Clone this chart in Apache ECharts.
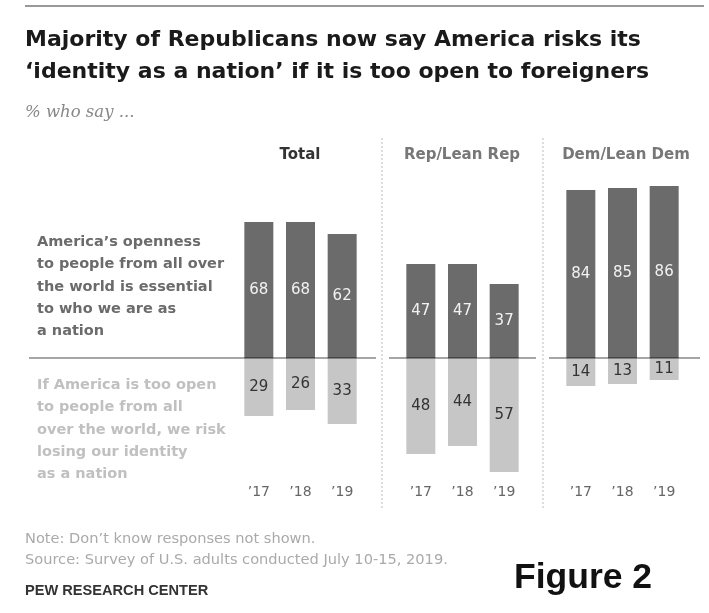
<!DOCTYPE html>
<html>
<head>
<meta charset="utf-8">
<script src="https://cdn.jsdelivr.net/npm/echarts@6/dist/echarts.min.js"></script>
<style>
  html, body { margin: 0; padding: 0; background: #fff; }
  #chart { width: 709px; height: 613px; }
</style>
</head>
<body>
<div id="chart"></div>
<script>
// 年份与分组
const years = ['\u201917', '\u201918', '\u201919']
const groups = ['Total', 'Rep/Lean Rep', 'Dem/Lean Dem']

// "openness is essential" 与 "risk losing identity" 两组数值
const essentialTotal = [68, 68, 62]
const essentialRep = [47, 47, 37]
const essentialDem = [84, 85, 86]
const riskTotal = [29, 26, 33]
const riskRep = [48, 44, 57]
const riskDem = [14, 13, 11]

const essential = [essentialTotal, essentialRep, essentialDem]
const risk = [riskTotal, riskRep, riskDem]

const DARK = '#6b6b6b'
const LIGHT = '#c6c6c6'
const BODY_FONT = 'DejaVu Sans'

// 每个面板的网格位置
const panelLeft = [238, 400, 560]
const panelWidth = 125
const gridTop = 178
const gridHeight = 300

const grids = panelLeft.map(left => ({ left, top: gridTop, width: panelWidth, height: gridHeight }))

const xAxes = groups.map((g, i) => ({
  type: 'category',
  gridIndex: i,
  data: years,
  axisLine: { show: false },
  axisTick: { show: false },
  axisLabel: { color: '#666', fontSize: 14, fontFamily: BODY_FONT, margin: 7 },
}))

const yAxes = groups.map((g, i) => ({
  type: 'value',
  gridIndex: i,
  min: -60,
  max: 90,
  show: false,
  splitLine: { show: false },
}))

const series = []
groups.forEach((g, i) => {
  series.push({
    name: g + ' essential',
    type: 'bar',
    xAxisIndex: i,
    yAxisIndex: i,
    barWidth: 29,
    barGap: '-100%',
    data: essential[i],
    itemStyle: { color: DARK },
    label: {
      show: true,
      position: 'inside',
      color: '#f2f2f2',
      fontSize: 15,
      fontFamily: BODY_FONT,
    },
  })
  series.push({
    name: g + ' risk',
    type: 'bar',
    xAxisIndex: i,
    yAxisIndex: i,
    barWidth: 29,
    barGap: '-100%',
    data: risk[i].map(v => -v),
    itemStyle: { color: LIGHT },
    label: {
      show: true,
      position: 'inside',
      color: '#333',
      fontSize: 15,
      fontFamily: BODY_FONT,
      formatter: p => Math.abs(p.value),
    },
  })
})

const chart = echarts.init(document.getElementById('chart'), null, { renderer: 'canvas' })
chart.setOption({
  backgroundColor: '#fff',
  animation: false,
  grid: grids,
  xAxis: xAxes,
  yAxis: yAxes,
  series,
})

// 零线的像素位置
const zeroY = chart.convertToPixel({ gridIndex: 0 }, [0, 0])[1]
const baseRanges = [[29, 376], [389, 536], [549, 700]]
const headerX = [300, 462, 626]

function text(x, y, str, font, fill, align) {
  return {
    type: 'text',
    z: 100,
    style: {
      x, y, text: str, font, fill,
      align: align || 'left', textAlign: align || 'left',
      verticalAlign: 'middle', textVerticalAlign: 'middle',
      lineHeight: 22.3,
    },
  }
}

const graphic = [
  // 顶部横线
  { type: 'line', shape: { x1: 25, y1: 6, x2: 704, y2: 6 }, style: { stroke: '#999', lineWidth: 2 } },
  text(25, 40, 'Majority of Republicans now say America risks its', 'bold 22px "DejaVu Sans"', '#1a1a1a'),
  text(25, 72, '\u2018identity as a nation\u2019 if it is too open to foreigners', 'bold 22px "DejaVu Sans"', '#1a1a1a'),
  text(25, 113, '% who say ...', 'italic 16.5px "DejaVu Serif"', '#888'),
  // 分隔虚线
  { type: 'line', shape: { x1: 382, y1: 138, x2: 382, y2: 508 }, style: { stroke: '#bbb', lineWidth: 1, lineDash: [2, 2] } },
  { type: 'line', shape: { x1: 543, y1: 138, x2: 543, y2: 508 }, style: { stroke: '#bbb', lineWidth: 1, lineDash: [2, 2] } },
  text(37, 242, 'America\u2019s openness\nto people from all over\nthe world is essential\nto who we are as\na nation', 'bold 14.5px "DejaVu Sans"', '#6b6b6b'),
  text(37, 385, 'If America is too open\nto people from all\nover the world, we risk\nlosing our identity\nas a nation', 'bold 14.5px "DejaVu Sans"', '#c0c0c0'),
  text(25, 539, 'Note: Don\u2019t know responses not shown.', '14.6px "DejaVu Sans"', '#aaa'),
  text(25, 560, 'Source: Survey of U.S. adults conducted July 10-15, 2019.', '14.6px "DejaVu Sans"', '#aaa'),
  text(25, 591, 'PEW RESEARCH CENTER', 'bold 14.6px "Liberation Sans"', '#333'),
  text(514, 578, 'Figure 2', 'bold 35.5px "Liberation Sans"', '#111'),
]

// 多行文本按顶部定位，首行中心落在给定 y
graphic.forEach(g => {
  if (g.type === 'text' && g.style.text.indexOf('\n') > -1) {
    g.style.verticalAlign = 'top'
    g.style.textVerticalAlign = 'top'
    g.style.y = g.style.y - 11
  }
})

groups.forEach((g, i) => {
  graphic.push(text(headerX[i], 155, g, 'bold 15px "DejaVu Sans"', i === 0 ? '#333' : '#777', 'center'))
  graphic.push({
    type: 'line',
    z: 100,
    shape: { x1: baseRanges[i][0], y1: zeroY, x2: baseRanges[i][1], y2: zeroY },
    style: { stroke: 'rgba(0,0,0,0.35)', lineWidth: 2 },
  })
})

chart.setOption({ graphic })
</script>
</body>
</html>
